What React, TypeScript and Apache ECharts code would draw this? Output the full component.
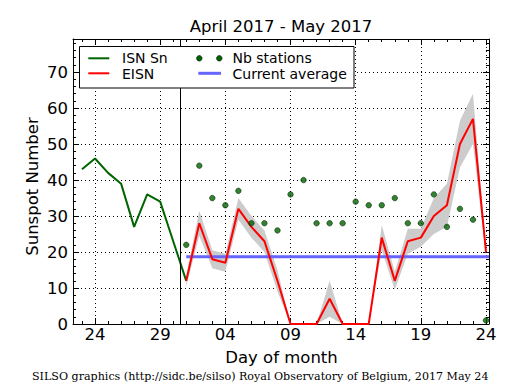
import React, { useEffect, useRef } from 'react';
import * as echarts from 'echarts';

// ---- data ----
const BASE_DATE = '2017-04-24';
const isnDates = ['2017-04-23', '2017-04-24', '2017-04-25', '2017-04-26', '2017-04-27', '2017-04-28', '2017-04-29', '2017-04-30', '2017-05-01'];
const isnValues = [43, 46, 42, 39, 27, 36, 34, 23, 12];

const eisnDates = [
  '2017-05-01', '2017-05-02', '2017-05-03', '2017-05-04', '2017-05-05', '2017-05-06', '2017-05-07', '2017-05-08',
  '2017-05-09', '2017-05-10', '2017-05-11', '2017-05-12', '2017-05-13', '2017-05-14', '2017-05-15', '2017-05-16',
  '2017-05-17', '2017-05-18', '2017-05-19', '2017-05-20', '2017-05-21', '2017-05-22', '2017-05-23', '2017-05-24',
];
const eisnValues = [12, 28, 18, 17, 32, 27, 23, 12, 0, 0, 0, 7, 0, 0, 0, 24, 12, 23, 24, 30, 33, 50, 57, 20];
const eisnSigma = [1.5, 3.5, 2.5, 2.5, 3, 3, 3, 3, 0, 0, 0, 5, 0, 0, 0, 3.5, 2.5, 3.5, 2.5, 5, 6, 6.5, 7, 1];
const stationCounts = [22, 44, 35, 33, 37, 28, 28, 26, 36, 40, 28, 28, 28, 34, 33, 33, 35, 28, 28, 36, 27, 32, 29, 1];

const currentAverage = 18.7;
const averageStart = '2017-05-01';
const separatorDay = 6.55; // days after BASE_DATE

const xMin = -1.69;
const xMax = 30.23;
const yMin = 0;
const yMax = 79.2;
const xStep = 5;
const yStep = 10;

const titleText = 'April 2017 - May 2017';
const xName = 'Day of month';
const yName = 'Sunspot Number';
const footerText = 'SILSO graphics (http://sidc.be/silso) Royal Observatory of Belgium, 2017 May 24';
const legendNames = ['ISN Sn', 'EISN', 'Nb stations', 'Current average'];

const DAY_MS = 86400000;
const dayOffset = (d: string) => (Date.parse(d) - Date.parse(BASE_DATE)) / DAY_MS;

const isnDays = isnDates.map(dayOffset);
const eisnDays = eisnDates.map(dayOffset);

const SANS = 'DejaVu Sans';
const SERIF = 'DejaVu Serif';

function xLabel(v: number): string {
  const r = Math.round(v);
  if (Math.abs(v - r) > 1e-6 || r % xStep !== 0) return '';
  const d = new Date(Date.parse(BASE_DATE) + r * DAY_MS).getUTCDate();
  return String(d).padStart(2, '0');
}
function yLabel(v: number): string {
  const r = Math.round(v);
  if (Math.abs(v - r) > 1e-6 || r % yStep !== 0) return '';
  return String(r);
}

const txt = (text: string, x: number, y: number, size: number, extra: any = {}, family: string = SANS) => ({
  type: 'text',
  x,
  y,
  ...extra,
  style: {
    text,
    fontSize: size,
    fontFamily: family,
    fill: '#000',
    textAlign: extra.align || 'left',
    textVerticalAlign: 'middle',
  },
});

export default function App() {
  const ref = useRef<HTMLDivElement>(null);
  useEffect(() => {
    if (!ref.current) return;
    const chart = echarts.init(ref.current, null, { renderer: 'svg' });

    const tickCommon = {
      axisLine: { show: true, onZero: false, lineStyle: { color: '#000', width: 1 } },
      axisTick: { show: true, inside: true, length: 6, lineStyle: { color: '#000', width: 1 } },
      minorTick: { show: true, splitNumber: 5, length: 3, lineStyle: { color: '#000', width: 1 } },
    };
    const gridLine = { show: true, lineStyle: { color: '#000', width: 1, type: [1, 3] } };

    const option: any = {
      animation: false,
      backgroundColor: '#fff',
      textStyle: { fontFamily: SANS },
      grid: { left: 73, right: 26, top: 39, bottom: 66, containLabel: false, outerBoundsMode: 'none' },
      xAxis: [
        {
          type: 'value', min: xMin, max: xMax, splitNumber: 6, minInterval: xStep, maxInterval: xStep,
          position: 'bottom', ...tickCommon, splitLine: gridLine,
          axisLabel: { formatter: xLabel, color: '#000', fontSize: 16.5, fontFamily: SANS, margin: 2, hideOverlap: false },
        },
        {
          type: 'value', min: xMin, max: xMax, splitNumber: 6, minInterval: xStep, maxInterval: xStep,
          position: 'top', ...tickCommon, splitLine: { show: false }, axisLabel: { show: false },
        },
      ],
      yAxis: [
        {
          type: 'value', min: yMin, max: yMax, interval: yStep, position: 'left', ...tickCommon, splitLine: gridLine,
          axisLabel: { formatter: yLabel, color: '#000', fontSize: 16.5, fontFamily: SANS, margin: 5, hideOverlap: false },
        },
        {
          type: 'value', min: yMin, max: yMax, interval: yStep, position: 'right', ...tickCommon,
          splitLine: { show: false }, axisLabel: { show: false },
        },
      ],
      series: [
        {
          type: 'custom',
          name: 'EISN band',
          silent: true,
          data: [[eisnDays[0], eisnValues[0]]],
          renderItem: (params: any, api: any) => {
            if (params.dataIndex !== 0) return null;
            const upper = eisnDays.map((d, i) => api.coord([d, eisnValues[i] + eisnSigma[i]]));
            const lower = eisnDays
              .map((d, i) => api.coord([d, Math.max(0, eisnValues[i] - eisnSigma[i])]))
              .reverse();
            return { type: 'polygon', shape: { points: upper.concat(lower) }, style: { fill: '#cccccc' } };
          },
          z: 1,
        },
        {
          type: 'line',
          name: legendNames[3],
          data: [[dayOffset(averageStart), currentAverage], [xMax, currentAverage]],
          symbol: 'none',
          lineStyle: { color: '#6666ff', width: 3 },
          z: 2,
        },
        {
          type: 'line',
          name: legendNames[0],
          data: isnDays.map((d, i) => [d, isnValues[i]]),
          symbol: 'none',
          lineStyle: { color: '#006400', width: 2 },
          z: 3,
          markLine: {
            silent: true,
            symbol: ['none', 'none'],
            label: { show: false },
            lineStyle: { color: '#000', width: 1, type: 'solid' },
            data: [{ xAxis: separatorDay }],
          },
        },
        {
          type: 'line',
          name: legendNames[1],
          data: eisnDays.map((d, i) => [d, eisnValues[i]]),
          symbol: 'none',
          lineStyle: { color: '#ff0000', width: 2 },
          z: 4,
        },
        {
          type: 'scatter',
          name: legendNames[2],
          data: eisnDays.map((d, i) => [d, stationCounts[i]]),
          symbol: 'circle',
          symbolSize: 5.5,
          itemStyle: { color: '#006400', borderColor: '#002000', borderWidth: 0.7 },
          z: 5,
        },
      ],
      graphic: [
        txt(titleText, 281, 26.6, 16.5, { align: 'center' }),
        txt(xName, 281.5, 357, 16.5, { align: 'center' }),
        txt(yName, 32.6, 186.5, 16.5, { align: 'center', rotation: Math.PI / 2 }),
        txt(footerText, 32, 376.2, 11.1, {}, SERIF),
        // legend
        { type: 'rect', z: 100, shape: { x: 79.5, y: 46.5, width: 274.5, height: 41.5 }, style: { fill: '#fff', stroke: '#000', lineWidth: 1 } },
        { type: 'line', z: 101, shape: { x1: 88.3, y1: 58.3, x2: 109.3, y2: 58.3 }, style: { stroke: '#006400', lineWidth: 2 } },
        { type: 'line', z: 101, shape: { x1: 88.3, y1: 73.3, x2: 109.3, y2: 73.3 }, style: { stroke: '#ff0000', lineWidth: 2 } },
        { type: 'circle', z: 101, shape: { cx: 199.3, cy: 58.3, r: 2.75 }, style: { fill: '#006400', stroke: '#002000', lineWidth: 0.7 } },
        { type: 'circle', z: 101, shape: { cx: 219.3, cy: 58.3, r: 2.75 }, style: { fill: '#006400', stroke: '#002000', lineWidth: 0.7 } },
        { type: 'line', z: 101, shape: { x1: 198.3, y1: 73.3, x2: 221, y2: 73.3 }, style: { stroke: '#6666ff', lineWidth: 3 } },
        { ...txt(legendNames[0], 122, 58.2, 14), z: 101 },
        { ...txt(legendNames[1], 122, 73.9, 14), z: 101 },
        { ...txt(legendNames[2], 232.5, 58.2, 14), z: 101 },
        { ...txt(legendNames[3], 232.5, 73.9, 14), z: 101 },
      ],
    };
    chart.setOption(option);
    return () => chart.dispose();
  }, []);

  return (
    <div
      ref={ref}
      style={{ position: 'fixed', left: 0, top: 0, width: 515, height: 390, background: '#fff' }}
    />
  );
}
